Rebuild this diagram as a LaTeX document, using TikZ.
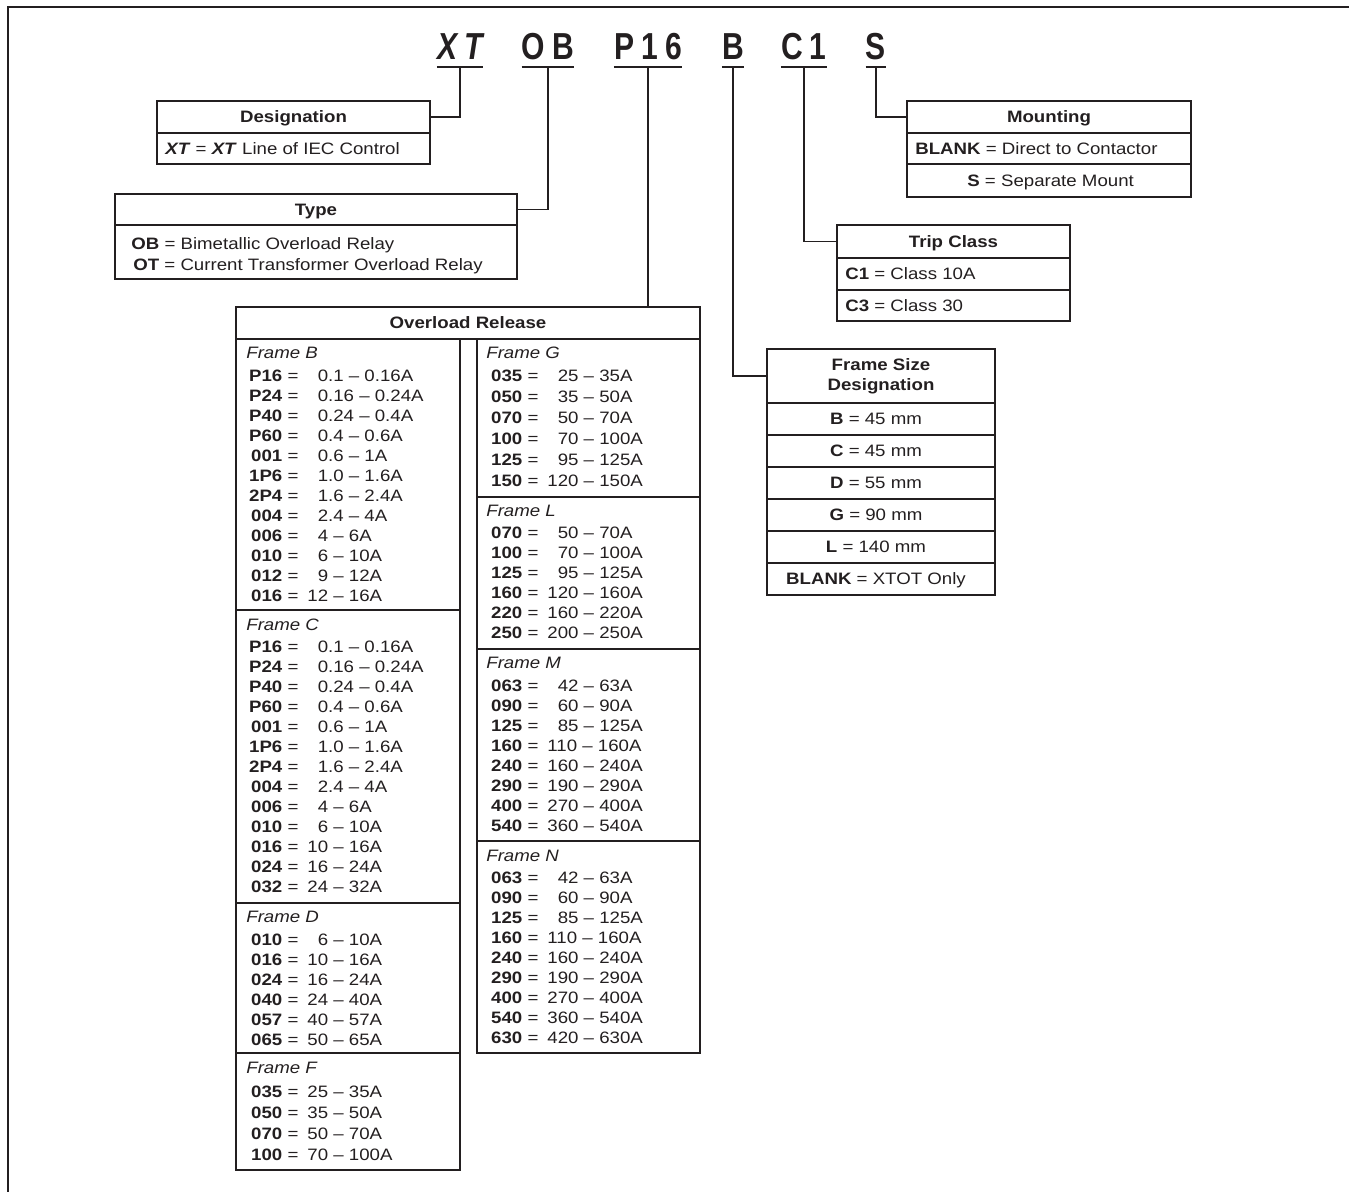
\documentclass[tikz,border=0pt]{standalone}
\usepackage{fontspec}
\setmainfont[FakeStretch=1.13]{Liberation Sans}
\newfontfamily\codefont[FakeStretch=0.8]{Liberation Sans}
\usetikzlibrary{fit}
\definecolor{ink}{RGB}{35,31,32}
\newcommand{\pad}{\phantom{0}}
\newcommand{\ls}{\hspace{4pt}}
\newcommand{\lrel}[2]{\makebox[0.64cm][r]{\bfseries #1} =\hspace{0.18cm}#2}
\newcommand{\rrel}[2]{\makebox[0.60cm][r]{\bfseries #1} =\hspace{0.18cm}#2}
\tikzset{
  tbl/.style = {draw = ink, line width = 0.6pt, inner sep = 0pt},
  txt/.style = {inner sep = 0pt, text = ink, font = \fontsize{9.4}{11.3}\selectfont, text height = 7.5pt, text depth = 0.8pt},
  hd/.style = {txt, font = \fontsize{9.4}{11.3}\selectfont\bfseries},
  row/.style = {txt, anchor = west},
  lbl/.style = {txt, anchor = west, font = \fontsize{9.4}{11.3}\selectfont\itshape},
  code/.style = {inner sep = 0pt, anchor = base, text = ink, text depth = 0.13cm, font = \codefont\fontsize{21.4}{24}\selectfont\bfseries},
  uline/.style = {draw = ink, line width = 1.3pt},
  wire/.style = {draw = ink, line width = 0.6pt}
}
\begin{document}
\begin{tikzpicture}[x = 0.02cm, y = -0.02cm]
    \useasboundingbox (0,0) rectangle (1349,1192);
    \draw[ink, line width = 1pt] (8,1200) -- (8,7) -- (1360,7);

    \node[code] (xt) at (460,60) {\itshape X\ls T};
    \node[code] (ob) at (548,60) {O\ls B};
    \node[code] (p16) at (648,60) {P\ls 1\ls 6};
    \node[code] (fb) at (733,60) {B};
    \node[code] (c1) at (804,60) {C\ls 1};
    \node[code] (sm) at (876,60) {S};
    \foreach \c in {xt,ob,p16,fb,c1,sm}
        \draw[uline] (\c.south west) -- (\c.south east);

    \node[tbl, fit = {(157,101) (430,133)}] (desig) {};
    \node[tbl, fit = {(157,133) (430,164)}] (desigxt) {};
    \node[hd] at (desig.center) {Designation};
    \node[row] at (165,149) {\textbf{\textit{XT}} = \textbf{\textit{XT}} Line of IEC Control};
    \draw[wire] (xt.south) |- (desig.east);

    \node[tbl, fit = {(115,194) (517,225)}] (type) {};
    \node[tbl, fit = {(115,225) (517,279)}] (typerows) {};
    \node[hd] at (type.center) {Type};
    \node[row] at (131,244) {\textbf{OB} = Bimetallic Overload Relay};
    \node[row] at (133,265) {\textbf{OT} = Current Transformer Overload Relay};
    \draw[wire] (ob.south) |- (type.east);

    \node[tbl, fit = {(907,101) (1191,133)}] (mount) {};
    \node[tbl, fit = {(907,133) (1191,164)}] (mounta) {};
    \node[tbl, fit = {(907,164) (1191,197)}] (mountb) {};
    \node[hd] at (mount.center) {Mounting};
    \node[row] at (915,149) {\textbf{BLANK} = Direct to Contactor};
    \node[row] at (967,181) {\textbf{S} = Separate Mount};
    \draw[wire] (sm.south) |- (mount.west);

    \node[tbl, fit = {(837,225) (1070,258)}] (trip) {};
    \node[tbl, fit = {(837,258) (1070,290)}] (tripa) {};
    \node[tbl, fit = {(837,290) (1070,321)}] (tripb) {};
    \node[hd] at (trip.center) {Trip Class};
    \node[row] at (845,274) {\textbf{C1} = Class 10A};
    \node[row] at (845,306) {\textbf{C3} = Class 30};
    \draw[wire] (c1.south) |- (trip.west);

    \node[tbl, fit = {(767,349) (995,403)}] (fsize) {};
    \node[hd, align = center, text height = {}, text depth = {}] at (fsize.center) {Frame Size\\Designation};
    \foreach \t [count = \i] in {{\textbf{B} = 45 mm}, {\textbf{C} = 45 mm}, {\textbf{D} = 55 mm}, {\textbf{G} = 90 mm}, {\textbf{L} = 140 mm}, {\textbf{BLANK} = XTOT Only}} {
        \node[tbl, fit = {(767,{403+32*(\i-1)}) (995,{403+32*\i})}] (fs\i) {};
        \node[txt] at ([xshift = -0.1cm]fs\i.center) {\t};
    }
    \draw[wire] (fb.south) |- (fsize.west);

    \node[tbl, fit = {(236,307) (700,339)}] (ovl) {};
    \node[hd] at (ovl.center) {Overload Release};
    \draw[wire] (p16.south) -- (p16.south |- ovl.north);

    \node[tbl, fit = {(236,339) (460,610)}] (frb) {};
    \node[lbl] at (246,353) {Frame B};
    \foreach \k/\v [count = \i] in {P16/\pad0.1 – 0.16A, P24/\pad0.16 – 0.24A, P40/\pad0.24 – 0.4A, P60/\pad0.4 – 0.6A, 001/\pad0.6 – 1A, 1P6/\pad1.0 – 1.6A, 2P4/\pad1.6 – 2.4A, 004/\pad2.4 – 4A, 006/\pad4 – 6A, 010/\pad6 – 10A, 012/\pad9 – 12A, 016/12 – 16A}
        \node[row] at (250,{376+20*(\i-1)}) {\lrel{\k}{\v}};

    \node[tbl, fit = {(236,610) (460,903)}] (frc) {};
    \node[lbl] at (246,625) {Frame C};
    \foreach \k/\v [count = \i] in {P16/\pad0.1 – 0.16A, P24/\pad0.16 – 0.24A, P40/\pad0.24 – 0.4A, P60/\pad0.4 – 0.6A, 001/\pad0.6 – 1A, 1P6/\pad1.0 – 1.6A, 2P4/\pad1.6 – 2.4A, 004/\pad2.4 – 4A, 006/\pad4 – 6A, 010/\pad6 – 10A, 016/10 – 16A, 024/16 – 24A, 032/24 – 32A}
        \node[row] at (250,{647+20*(\i-1)}) {\lrel{\k}{\v}};

    \node[tbl, fit = {(236,903) (460,1053)}] (frd) {};
    \node[lbl] at (246,917) {Frame D};
    \foreach \k/\v [count = \i] in {010/\pad6 – 10A, 016/10 – 16A, 024/16 – 24A, 040/24 – 40A, 057/40 – 57A, 065/50 – 65A}
        \node[row] at (250,{940+20*(\i-1)}) {\lrel{\k}{\v}};

    \node[tbl, fit = {(236,1053) (460,1170)}] (frf) {};
    \node[lbl] at (246,1068) {Frame F};
    \foreach \k/\v [count = \i] in {035/25 – 35A, 050/35 – 50A, 070/50 – 70A, 100/70 – 100A}
        \node[row] at (250,{1092+21*(\i-1)}) {\lrel{\k}{\v}};

    \node[tbl, fit = {(477,339) (700,497)}] (frg) {};
    \node[lbl] at (486,353) {Frame G};
    \foreach \k/\v [count = \i] in {035/\pad25 – 35A, 050/\pad35 – 50A, 070/\pad50 – 70A, 100/\pad70 – 100A, 125/\pad95 – 125A, 150/120 – 150A}
        \node[row] at (492,{376+21*(\i-1)}) {\rrel{\k}{\v}};

    \node[tbl, fit = {(477,497) (700,649)}] (frl) {};
    \node[lbl] at (486,511) {Frame L};
    \foreach \k/\v [count = \i] in {070/\pad50 – 70A, 100/\pad70 – 100A, 125/\pad95 – 125A, 160/120 – 160A, 220/160 – 220A, 250/200 – 250A}
        \node[row] at (492,{533+20*(\i-1)}) {\rrel{\k}{\v}};

    \node[tbl, fit = {(477,649) (700,841)}] (frm) {};
    \node[lbl] at (486,663) {Frame M};
    \foreach \k/\v [count = \i] in {063/\pad42 – 63A, 090/\pad60 – 90A, 125/\pad85 – 125A, 160/110 – 160A, 240/160 – 240A, 290/190 – 290A, 400/270 – 400A, 540/360 – 540A}
        \node[row] at (492,{686+20*(\i-1)}) {\rrel{\k}{\v}};

    \node[tbl, fit = {(477,841) (700,1053)}] (frn) {};
    \node[lbl] at (486,856) {Frame N};
    \foreach \k/\v [count = \i] in {063/\pad42 – 63A, 090/\pad60 – 90A, 125/\pad85 – 125A, 160/110 – 160A, 240/160 – 240A, 290/190 – 290A, 400/270 – 400A, 540/360 – 540A, 630/420 – 630A}
        \node[row] at (492,{878+20*(\i-1)}) {\rrel{\k}{\v}};
\end{tikzpicture}
\end{document}
